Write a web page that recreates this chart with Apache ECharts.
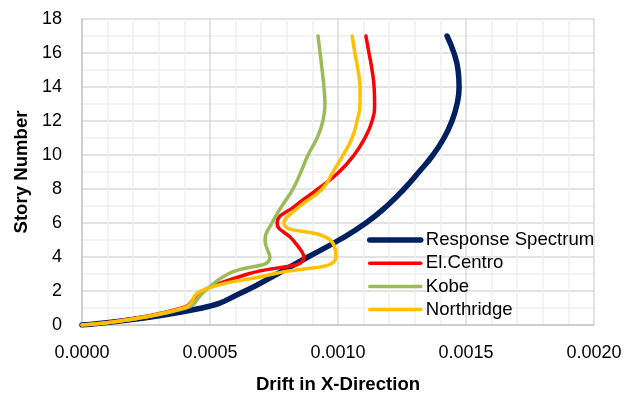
<!DOCTYPE html>
<html>
<head>
<meta charset="utf-8">
<script src="https://cdn.jsdelivr.net/npm/echarts@6/dist/echarts.min.js"></script>
<style>
  html, body { margin: 0; padding: 0; background: #fff; }
  #chart { width: 627px; height: 396px; }
</style>
</head>
<body>
<div id="chart"></div>
<script>
// Inter-story drift per floor, X direction
const stories = [0, 1, 2, 3, 4, 5, 6, 7, 8, 9, 10, 11, 12, 13, 14, 15, 16, 17];
const responseSpectrum = [0, 0.000469, 0.000637, 0.000762, 0.000883, 0.001004, 0.001109, 0.001191, 0.001258, 0.001316, 0.001371, 0.001414, 0.001445, 0.001465, 0.001473, 0.001469, 0.001453, 0.001426];
const elCentro = [0, 0.000391, 0.000469, 0.000648, 0.000867, 0.000824, 0.000762, 0.000832, 0.000922, 0.001004, 0.001063, 0.001105, 0.001133, 0.001143, 0.001141, 0.001133, 0.001121, 0.001109];
const kobe = [0, 0.000406, 0.000480, 0.000570, 0.000734, 0.000715, 0.000742, 0.000781, 0.000824, 0.000855, 0.000883, 0.000918, 0.000941, 0.000949, 0.000945, 0.000938, 0.000930, 0.000922];
const northridge = [0, 0.000398, 0.000465, 0.000746, 0.000992, 0.000969, 0.000789, 0.000852, 0.000938, 0.000980, 0.001020, 0.001055, 0.001074, 0.001086, 0.001086, 0.001078, 0.001066, 0.001055];

const seriesNames = ['Response Spectrum', 'El.Centro', 'Kobe', 'Northridge'];
const seriesColors = ['#002060', '#FF0000', '#9BBB59', '#FFC000'];
const seriesWidths = [5.5, 3.5, 3.5, 3.5];
const seriesValues = [responseSpectrum, elCentro, kobe, northridge];

const FONT = 'Liberation Sans';

const chart = echarts.init(document.getElementById('chart'), null, { renderer: 'canvas' });

chart.setOption({
  animation: false,
  backgroundColor: '#ffffff',
  grid: { left: 82, right: 33, top: 19, bottom: 71, containLabel: false, outerBoundsMode: 'none' },
  legend: {
    orient: 'vertical',
    left: 367,
    top: 230,
    padding: 0,
    itemWidth: 51,
    itemHeight: 12,
    itemGap: 3.2,
    // line-only keys: hide the marker the line legend draws in the middle
    itemStyle: { opacity: 0, color: 'rgba(0,0,0,0)', borderWidth: 0 },
    lineStyle: { width: 'inherit', cap: 'round' },
    textStyle: { fontFamily: FONT, fontSize: 18.6, color: '#000', lineHeight: 20 },
    data: seriesNames
  },
  xAxis: {
    type: 'value',
    min: 0,
    max: 0.002,
    interval: 0.0005,
    name: 'Drift in X-Direction',
    nameLocation: 'middle',
    nameGap: 50,
    nameTextStyle: { fontFamily: FONT, fontSize: 18.6, fontWeight: 'bold', color: '#000' },
    axisLine: { show: true, lineStyle: { color: '#c8c8c8', width: 1.5 } },
    axisTick: { show: false },
    axisLabel: {
      margin: 19,
      fontFamily: FONT, fontSize: 18, color: '#000',
      formatter: v => v.toFixed(4)
    },
    splitLine: { show: true, lineStyle: { color: '#d9d9d9', width: 1.5 } },
    minorTick: { show: false, splitNumber: 5 },
    minorSplitLine: { show: true, lineStyle: { color: '#efefef', width: 1.5 } }
  },
  yAxis: {
    type: 'value',
    min: 0,
    max: 18,
    interval: 2,
    name: 'Story Number',
    nameLocation: 'middle',
    nameGap: 50,
    nameTextStyle: { fontFamily: FONT, fontSize: 18.6, fontWeight: 'bold', color: '#000' },
    axisLine: { show: true, lineStyle: { color: '#c8c8c8', width: 1.5 } },
    axisTick: { show: false },
    axisLabel: { margin: 20, fontFamily: FONT, fontSize: 18, color: '#000' },
    splitLine: { show: true, lineStyle: { color: '#d9d9d9', width: 1.5 } },
    minorTick: { show: false, splitNumber: 2 },
    minorSplitLine: { show: true, lineStyle: { color: '#efefef', width: 1.5 } }
  },
  series: seriesNames.map((name, i) => ({
    name: name,
    type: 'line',
    smooth: 0.5,
    symbol: 'none',
    showSymbol: false,
    lineStyle: { color: seriesColors[i], width: seriesWidths[i], cap: 'round', join: 'round' },
    itemStyle: { color: seriesColors[i] },
    data: seriesValues[i].map((v, k) => [v, stories[k]])
  }))
});
</script>
</body>
</html>
